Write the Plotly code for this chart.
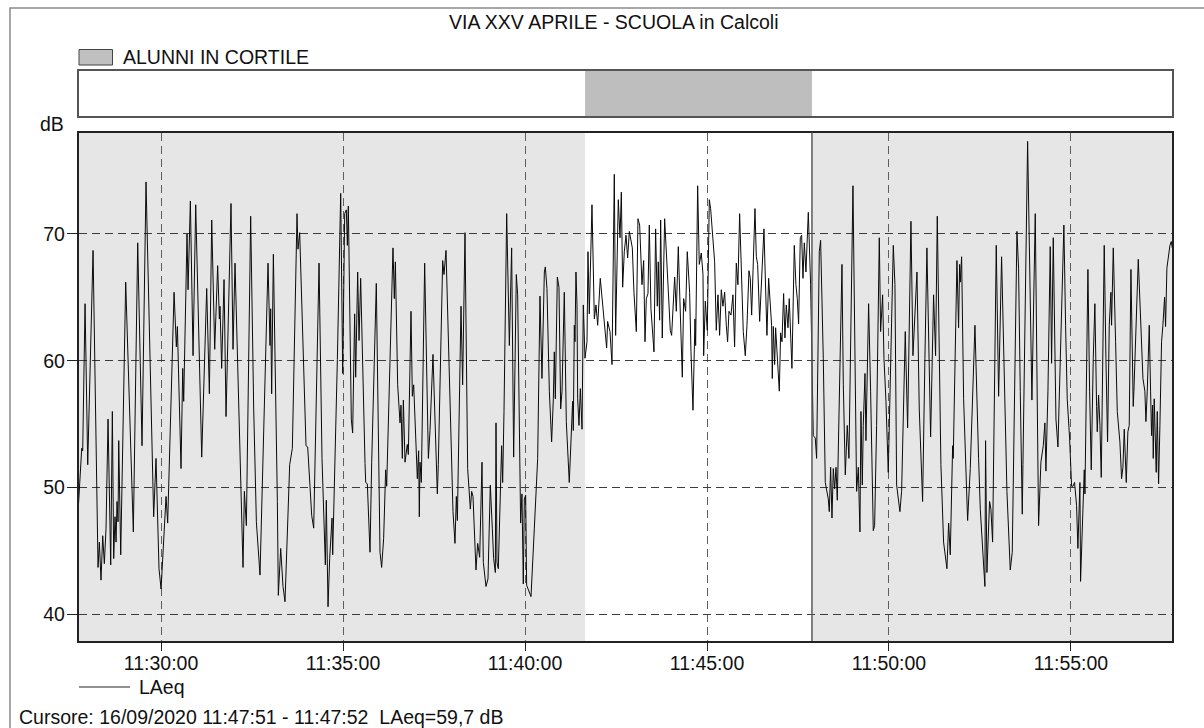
import pandas as pd
import plotly.graph_objects as go

# ---------------- data ----------------
chart_title = "VIA XXV APRILE - SCUOLA in Calcoli"
period_label = "ALUNNI IN CORTILE"
series_name = "LAeq"
y_unit = "dB"
cursor_text = "Cursore: 16/09/2020 11:47:51 - 11:47:52  LAeq=59,7 dB"

base_time = "2020-09-16 11:30:00"
x_start = "2020-09-16 11:27:44"
x_end = "2020-09-16 11:57:47"
period_start = "2020-09-16 11:41:39"
period_end = "2020-09-16 11:47:53"
cursor_time = "2020-09-16 11:47:53"

x_tick_labels = ["11:30:00", "11:35:00", "11:40:00", "11:45:00", "11:50:00", "11:55:00"]
y_tick_values = [40, 50, 60, 70]
y_range = [37.9, 78.0]

# seconds after 11:30:00
seconds_after_1130 = [
    -136.2, -130.7, -129.1, -125.2, -120.8, -112.0, -103.8, -101.6, -98.9, -96.1,
    -93.4, -90.6, -87.3, -82.9, -80.2, -78.0, -75.8, -74.1, -72.5, -70.8,
    -69.7, -66.4, -58.2, -45.6, -38.4, -31.3, -24.7, -12.1, -8.2, -3.3,
    0.1, 5.5, 8.3, 11.0, 21.5, 25.3, 27.0, 33.0, 35.8, 37.4,
    42.9, 44.6, 48.4, 52.8, 57.2, 67.1, 75.3, 79.7, 83.6, 88.5,
    93.4, 96.2, 97.3, 100.0, 103.9, 107.2, 115.4, 118.7, 122.0, 135.2,
    137.4, 140.7, 147.8, 152.8, 157.2, 163.2, 176.4, 179.7, 180.8, 182.4,
    185.2, 191.8, 193.4, 197.3, 201.1, 204.4, 212.1, 216.5, 224.2, 225.8,
    228.6, 239.0, 241.8, 248.4, 251.7, 260.5, 265.4, 270.9, 272.5, 275.3,
    278.0, 281.9, 283.0, 290.7, 296.2, 299.5, 302.8, 305.5, 307.2, 308.8,
    313.7, 315.9, 319.2, 320.9, 324.2, 326.4, 329.1, 336.3, 337.4, 340.1,
    344.5, 347.3, 354.9, 361.0, 363.7, 367.0, 370.3, 372.0, 378.0, 382.4,
    384.6, 386.3, 390.1, 394.0, 395.6, 397.8, 399.5, 402.2, 406.0, 407.7,
    412.1, 414.3, 416.5, 422.5, 424.7, 425.8, 426.9, 429.1, 434.6, 440.7,
    443.4, 448.3, 455.5, 457.1, 464.3, 466.5, 469.8, 474.7, 479.7, 481.3,
    484.6, 486.8, 488.5, 494.5, 497.2, 501.1, 505.5, 509.9, 512.1, 514.3,
    519.2, 522.0, 525.3, 529.1, 531.3, 535.7, 539.0, 542.8, 546.1, 548.3,
    551.1, 552.2, 553.8, 556.0, 561.5, 563.2, 565.4, 569.8, 574.2, 578.0,
    581.3, 585.7, 587.9, 592.8, 595.0, 597.2, 598.9, 601.1, 602.7, 606.0,
    609.9, 615.4, 620.9, 624.7, 628.0, 631.9, 633.5, 636.2, 640.1, 643.9,
    646.7, 648.3, 650.0, 653.3, 656.0, 658.8, 661.0, 664.8, 668.1, 673.0,
    676.3, 678.5, 679.6, 681.3, 682.4, 684.0, 685.7, 686.8, 689.0, 691.2,
    694.0, 696.1, 698.9, 702.2, 703.8, 706.0, 710.4, 714.3, 717.0, 719.8,
    724.1, 728.0, 730.7, 734.6, 736.2, 740.1, 743.4, 747.2, 749.4, 753.8,
    756.6, 758.8, 761.0, 763.7, 766.5, 769.2, 772.0, 776.9, 779.6, 783.5,
    786.2, 789.0, 792.8, 795.6, 797.8, 800.0, 802.7, 804.9, 807.6, 809.8,
    812.6, 815.3, 818.1, 819.7, 821.9, 823.6, 826.3, 830.2, 834.6, 839.5,
    841.7, 843.9, 846.7, 849.4, 852.7, 855.4, 859.3, 861.5, 864.8, 867.5,
    871.4, 873.6, 876.9, 880.2, 881.3, 884.6, 887.3, 890.6, 893.4, 894.5,
    897.2, 900.5, 903.8, 906.0, 909.3, 912.6, 915.3, 918.1, 920.8, 923.6,
    926.3, 929.1, 931.8, 934.0, 936.2, 939.5, 942.8, 945.5, 948.3, 951.0,
    953.8, 957.1, 959.8, 963.1, 965.9, 969.2, 971.4, 973.6, 979.1, 981.3,
    983.5, 986.8, 990.1, 993.9, 998.8, 1001.6, 1006.5, 1007.6, 1009.3, 1011.5,
    1013.1, 1017.5, 1019.2, 1021.4, 1023.6, 1026.3, 1028.5, 1030.7, 1033.5, 1035.6,
    1037.8, 1040.0, 1043.9, 1046.6, 1048.8, 1051.0, 1053.8, 1056.0, 1058.2, 1060.4,
    1063.1, 1067.0, 1070.8, 1075.2, 1078.5, 1080.7, 1085.1, 1087.3, 1091.7, 1095.0,
    1097.2, 1099.9, 1101.6, 1103.8, 1106.0, 1108.2, 1110.4, 1112.6, 1114.8, 1118.1,
    1122.5, 1124.7, 1128.0, 1131.2, 1134.0, 1140.6, 1144.4, 1146.6, 1149.4, 1152.1,
    1153.8, 1156.0, 1157.6, 1160.4, 1162.0, 1164.2, 1166.4, 1169.7, 1171.9, 1174.1,
    1176.3, 1179.6, 1184.0, 1186.2, 1189.5, 1191.7, 1195.0, 1198.8, 1207.1, 1209.8,
    1212.6, 1215.8, 1218.0, 1220.8, 1226.8, 1230.7, 1232.9, 1236.2, 1239.5, 1242.2,
    1246.1, 1249.9, 1255.4, 1259.2, 1262.5, 1268.6, 1271.9, 1273.5, 1276.8, 1279.6,
    1285.6, 1290.0, 1295.5, 1298.3, 1301.0, 1304.9, 1305.9, 1312.0, 1314.7, 1316.4,
    1317.5, 1319.7, 1323.0, 1328.5, 1329.6, 1334.0, 1341.7, 1347.7, 1350.5, 1358.1,
    1359.2, 1361.4, 1365.8, 1368.0, 1370.8, 1376.8, 1380.7, 1385.6, 1390.0, 1394.4,
    1399.9, 1403.2, 1410.9, 1413.6, 1416.4, 1419.7, 1420.8, 1424.6, 1428.5, 1435.6,
    1441.1, 1446.6, 1450.4, 1454.3, 1457.0, 1458.7, 1462.0, 1465.8, 1468.0, 1470.8,
    1475.2, 1478.5, 1482.9, 1488.3, 1491.1, 1493.8, 1497.7, 1501.0, 1503.2, 1505.9,
    1509.2, 1511.4, 1514.7, 1515.8, 1519.7, 1521.9, 1523.0, 1525.7, 1527.9, 1530.7,
    1533.4, 1536.7, 1539.4, 1542.2, 1543.3, 1545.5, 1547.7, 1549.9, 1554.8, 1557.6,
    1560.3, 1563.1, 1565.8, 1566.9, 1569.7, 1573.5, 1576.3, 1580.6, 1583.4, 1585.6,
    1587.8, 1591.1, 1593.8, 1596.0, 1598.8, 1602.6, 1603.7, 1610.9, 1614.7, 1618.6,
    1621.8, 1623.5, 1625.7, 1629.0, 1631.2, 1632.8, 1634.5, 1635.6, 1637.2, 1638.3,
    1640.5, 1642.2, 1644.4, 1646.6, 1649.3, 1651.5, 1654.3, 1655.9, 1658.1, 1660.3,
    1663.1, 1665.3, 1666.9,
]

laeq_db = [
    48.5, 53.1, 52.9, 64.5, 51.8, 68.7, 43.7, 45.7, 42.7, 46.2,
    44.0, 46.8, 55.4, 43.9, 56.0, 44.4, 47.7, 45.7, 48.9, 47.3,
    53.7, 44.7, 66.2, 46.5, 69.3, 53.3, 74.1, 47.7, 52.3, 43.6,
    42.0, 46.8, 49.3, 47.2, 65.4, 61.1, 62.7, 51.5, 59.4, 56.8,
    70.0, 65.6, 72.6, 60.4, 72.3, 52.4, 65.7, 57.4, 71.1, 60.9,
    67.5, 63.3, 64.3, 59.4, 66.4, 55.6, 72.4, 60.9, 67.7, 43.7,
    49.7, 47.0, 71.4, 56.2, 47.3, 43.1, 67.7, 61.2, 64.1, 57.4,
    68.4, 48.9, 41.5, 45.2, 42.2, 41.0, 51.8, 53.1, 71.6, 68.8,
    70.1, 53.3, 53.2, 47.8, 46.8, 67.7, 52.3, 43.9, 49.0, 40.6,
    44.4, 47.6, 44.7, 60.1, 73.2, 59.0, 71.6, 71.9, 69.1, 72.2,
    55.4, 54.3, 63.7, 58.7, 67.0, 61.6, 66.5, 51.9, 50.4, 50.3,
    44.9, 52.0, 66.1, 44.9, 43.7, 46.0, 51.4, 50.1, 60.4, 68.9,
    64.9, 67.8, 58.1, 55.1, 56.5, 52.3, 56.9, 52.0, 53.4, 52.6,
    63.9, 57.2, 58.1, 50.7, 52.9, 47.7, 52.0, 50.4, 67.7, 52.3,
    54.5, 60.5, 49.5, 51.8, 67.9, 66.8, 68.7, 60.7, 51.9, 48.1,
    45.6, 49.3, 47.4, 64.3, 58.1, 70.1, 51.5, 48.3, 49.7, 49.3,
    43.5, 45.6, 44.5, 52.0, 44.1, 42.2, 42.8, 50.2, 46.8, 44.4,
    43.3, 55.1, 44.1, 43.6, 53.3, 50.4, 56.0, 71.6, 61.2, 68.9,
    52.4, 66.8, 65.2, 47.2, 49.5, 42.4, 49.1, 49.4, 42.3, 41.8,
    41.4, 46.8, 52.3, 65.1, 58.6, 67.0, 67.4, 65.7, 57.6, 53.6,
    57.0, 60.7, 57.0, 66.6, 65.8, 56.2, 57.6, 65.4, 55.2, 50.4,
    54.1, 56.8, 54.5, 62.8, 61.5, 67.0, 64.4, 57.0, 54.9, 57.8,
    54.6, 64.4, 60.2, 61.5, 68.6, 63.7, 72.3, 63.3, 64.4, 62.8,
    66.5, 64.3, 62.6, 61.0, 63.1, 62.3, 59.7, 74.7, 62.0, 72.7,
    69.7, 73.3, 65.8, 68.6, 69.9, 68.1, 70.2, 68.9, 65.4, 62.3,
    71.2, 70.7, 66.0, 67.9, 61.5, 64.9, 65.3, 70.7, 64.1, 62.8,
    60.7, 70.4, 64.3, 67.8, 63.2, 71.1, 61.8, 71.2, 66.8, 62.4,
    62.0, 63.9, 66.6, 63.9, 69.0, 64.7, 58.7, 64.9, 63.9, 68.6,
    65.4, 60.7, 56.1, 63.3, 61.2, 73.8, 67.6, 68.5, 66.8, 60.4,
    64.7, 62.4, 72.7, 72.0, 69.9, 67.8, 62.4, 65.2, 62.0, 65.6,
    64.3, 65.4, 62.8, 61.5, 63.9, 63.6, 65.2, 61.1, 67.7, 66.0,
    71.6, 65.4, 62.3, 60.4, 62.8, 67.1, 66.5, 63.6, 72.0, 68.2,
    67.6, 63.1, 66.0, 70.4, 62.0, 66.5, 62.8, 58.6, 62.7, 59.7,
    62.6, 58.6, 57.6, 62.2, 61.5, 65.3, 61.8, 64.4, 62.6, 64.9,
    62.3, 59.4, 69.1, 66.0, 64.9, 62.9, 69.7, 69.9, 66.5, 69.3,
    67.0, 71.7, 66.0, 54.1, 53.9, 52.3, 68.6, 69.5, 60.2, 50.4,
    49.8, 49.1, 48.1, 51.6, 47.6, 51.5, 49.9, 51.6, 49.0, 56.0,
    67.6, 58.1, 51.0, 54.9, 52.3, 73.8, 57.6, 49.7, 51.6, 46.5,
    56.0, 50.2, 54.9, 59.0, 53.7, 59.4, 64.5, 57.6, 52.6, 46.6,
    47.0, 54.9, 69.7, 62.3, 65.2, 60.2, 56.8, 51.2, 69.1, 66.0,
    50.2, 48.7, 48.1, 49.7, 62.3, 54.7, 60.2, 71.0, 60.4, 62.8,
    67.0, 56.2, 48.9, 60.2, 68.9, 54.0, 60.2, 65.2, 60.4, 71.4,
    51.8, 45.7, 43.6, 47.2, 44.7, 53.3, 52.3, 67.9, 62.6, 67.6,
    66.2, 68.2, 57.0, 49.7, 47.4, 51.5, 62.8, 52.3, 48.3, 42.2,
    53.7, 43.3, 48.9, 48.3, 45.7, 69.1, 57.2, 68.2, 57.6, 49.7,
    43.5, 44.9, 70.2, 67.3, 57.6, 47.9, 51.8, 62.8, 77.3, 56.9,
    71.6, 47.0, 52.0, 53.3, 55.1, 51.3, 57.6, 69.0, 59.8, 69.7,
    55.4, 53.2, 61.5, 70.7, 62.8, 57.0, 53.9, 50.1, 50.1, 50.4,
    48.6, 45.2, 50.4, 42.6, 48.3, 51.4, 49.5, 57.6, 67.2, 57.6,
    51.4, 60.2, 64.5, 56.4, 54.4, 57.3, 54.9, 50.8, 69.1, 60.2,
    53.6, 62.8, 65.4, 62.8, 68.9, 61.5, 56.0, 53.6, 50.7, 51.6,
    54.6, 50.4, 54.4, 54.9, 67.2, 56.4, 57.6, 68.0, 62.8, 58.6,
    57.6, 55.2, 57.6, 62.8, 57.6, 54.1, 56.5, 52.3, 57.0, 54.0,
    51.2, 56.0, 50.3, 54.9, 61.5, 62.8, 65.0, 62.7, 67.3, 68.1,
    69.1, 69.4, 68.9,
]

# ---------------- figure ----------------
W, H = 1204, 728
FONT = "Liberation Sans, Arial, sans-serif"
FS = 19.5


def px(x):
    return x / W


def py(y):
    return 1 - y / H


day = base_time.split(" ")[0]
times = pd.Timestamp(base_time) + pd.to_timedelta(seconds_after_1130, unit="s")
x_tick_vals = [f"{day} {t}" for t in x_tick_labels]

x_domain = [px(78.5), px(1172.3)]
main_domain = [py(641), py(132.5)]
band_domain = [py(116), py(71)]

fig = go.Figure()

# period band (top strip)
fig.add_trace(go.Scatter(
    x=[period_start, period_start, period_end, period_end],
    y=[0, 1, 1, 0],
    fill="toself", fillcolor="#bebebe", mode="lines",
    line=dict(width=0), xaxis="x2", yaxis="y2",
    hoverinfo="skip", showlegend=False,
))

# LAeq series
fig.add_trace(go.Scatter(
    x=times, y=laeq_db, mode="lines", name=series_name,
    line=dict(color="#0a0a0a", width=1), xaxis="x", yaxis="y",
    showlegend=False,
))

shapes = [
    # gray background outside the period
    dict(type="rect", xref="x", yref="paper", x0=x_start, x1=period_start,
         y0=main_domain[0], y1=main_domain[1], fillcolor="#e6e6e6",
         line=dict(width=0), layer="below"),
    dict(type="rect", xref="x", yref="paper", x0=period_end, x1=x_end,
         y0=main_domain[0], y1=main_domain[1], fillcolor="#e6e6e6",
         line=dict(width=0), layer="below"),
    # cursor line
    dict(type="line", xref="x", yref="paper", x0=cursor_time, x1=cursor_time,
         y0=main_domain[0], y1=main_domain[1],
         line=dict(color="#5a5a5a", width=1.5), layer="above"),
    # outer frame
    dict(type="rect", xref="paper", yref="paper", x0=px(10), x1=1.05,
         y0=-0.05, y1=py(8), line=dict(color="#8a8a8a", width=1.5),
         fillcolor="rgba(0,0,0,0)", layer="above"),
    # period legend swatch
    dict(type="rect", xref="paper", yref="paper", x0=px(79), x1=px(112.5),
         y0=py(65), y1=py(49.5), fillcolor="#c0c0c0",
         line=dict(color="#444444", width=1), layer="above"),
    # series legend sample
    dict(type="line", xref="paper", yref="paper", x0=px(79), x1=px(130),
         y0=py(687), y1=py(687), line=dict(color="#222222", width=1),
         layer="above"),
]

annotations = [
    dict(text=chart_title, x=px(613), y=py(22), xref="paper", yref="paper",
         xanchor="center", yanchor="middle", showarrow=False),
    dict(text=period_label, x=px(121), y=py(57.5), xref="paper", yref="paper",
         xanchor="left", yanchor="middle", showarrow=False),
    dict(text=y_unit, x=px(66), y=py(123.5), xref="paper", yref="paper",
         xanchor="right", yanchor="middle", showarrow=False),
    dict(text=series_name, x=px(137), y=py(686.5), xref="paper", yref="paper",
         xanchor="left", yanchor="middle", showarrow=False),
    dict(text=cursor_text, x=px(17), y=py(716.5), xref="paper", yref="paper",
         xanchor="left", yanchor="middle", showarrow=False),
]

grid_dash = "8px,5px"

fig.update_layout(
    width=W, height=H, autosize=False,
    margin=dict(l=0, r=0, t=0, b=0, pad=0),
    paper_bgcolor="white", plot_bgcolor="white",
    font=dict(family=FONT, size=FS, color="#111111"),
    showlegend=False,
    shapes=shapes, annotations=annotations,
    xaxis=dict(
        domain=x_domain, anchor="y", type="date", range=[x_start, x_end],
        tickmode="array", tickvals=x_tick_vals, ticktext=x_tick_labels,
        ticks="outside", ticklen=8, tickwidth=1.2, tickcolor="#222222",
        ticklabelstandoff=-4,
        showgrid=True, gridcolor="#5e5e5e", gridwidth=1, griddash=grid_dash,
        showline=True, linecolor="#222222", linewidth=1.5, mirror=True,
        zeroline=False, tickfont=dict(size=FS),
    ),
    yaxis=dict(
        domain=main_domain, anchor="x", range=y_range,
        tickmode="array", tickvals=y_tick_values,
        ticks="outside", ticklen=10, tickwidth=1.2, tickcolor="#222222",
        ticklabelstandoff=-2,
        showgrid=True, gridcolor="#3c3c3c", gridwidth=1, griddash=grid_dash,
        showline=True, linecolor="#222222", linewidth=1.5, mirror=True,
        zeroline=False, tickfont=dict(size=FS),
    ),
    xaxis2=dict(
        domain=x_domain, anchor="y2", type="date", range=[x_start, x_end],
        showticklabels=False, ticks="", showgrid=False, zeroline=False,
        showline=True, linecolor="#555555", linewidth=1.5, mirror=True,
    ),
    yaxis2=dict(
        domain=band_domain, anchor="x2", range=[0, 1],
        showticklabels=False, ticks="", showgrid=False, zeroline=False,
        showline=True, linecolor="#555555", linewidth=1.5, mirror=True,
    ),
)

fig.write_html(
    "out.html",
    config={"displayModeBar": False},
    post_script="document.body.style.margin='0';",
)
